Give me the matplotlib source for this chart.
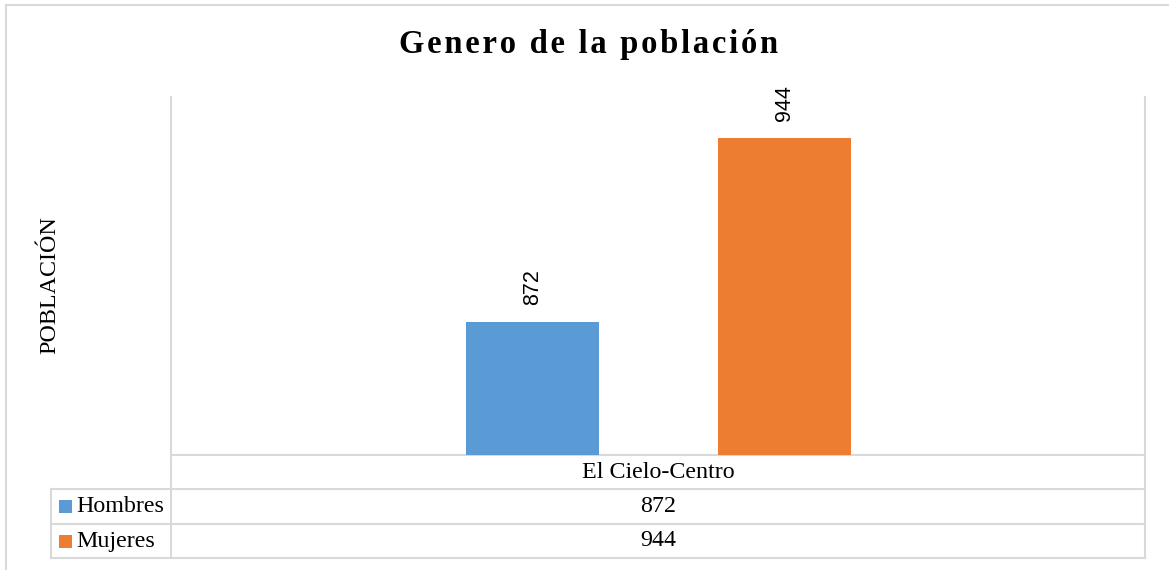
import matplotlib
matplotlib.use("Agg")
import matplotlib.pyplot as plt

title = "Genero de la población"
category = "El Cielo-Centro"
series = ["Hombres", "Mujeres"]
values = [872, 944]
colors = ["#5B9BD5", "#ED7D31"]
ylabel = "POBLACIÓN"

W, H = 1169, 570
GRID = "#D9D9D9"
SERIF = ["Liberation Serif", "DejaVu Serif"]
FS = 17.3

fig = plt.figure(figsize=(W / 100, H / 100), dpi=100)

# background layer in pixel coords: frame + data table
bg = fig.add_axes([0, 0, 1, 1], zorder=0)
bg.set_xlim(0, W)
bg.set_ylim(H, 0)
bg.axis("off")

# outer chart frame
bg.plot([6, 6], [5, H], color=GRID, lw=1.5)
bg.plot([6, W], [5, 5], color=GRID, lw=1.5)

plot_l, plot_r, plot_t, plot_b = 171, 1145, 97, 455
rows_y = [455, 489, 524, 558]
legend_l = 51

bg.plot([plot_l, plot_l], [plot_t, rows_y[-1]], color=GRID, lw=1.5)
bg.plot([plot_r, plot_r], [plot_t, rows_y[-1]], color=GRID, lw=1.5)
bg.plot([legend_l, legend_l], [rows_y[1], rows_y[-1]], color=GRID, lw=1.5)
bg.plot([plot_l, plot_r], [rows_y[0], rows_y[0]], color=GRID, lw=1.5)
for y in rows_y[1:]:
    bg.plot([legend_l, plot_r], [y, y], color=GRID, lw=1.5)

mid_x = (plot_l + plot_r) / 2
bg.text(mid_x, (rows_y[0] + rows_y[1]) / 2, category, ha="center", va="center",
        fontsize=FS, family=SERIF, color="#000000")
for i, (name, val, col) in enumerate(zip(series, values, colors)):
    yc = (rows_y[i + 1] + rows_y[i + 2]) / 2
    bg.add_patch(plt.Rectangle((59, yc - 6.5), 13, 13, color=col, lw=0))
    bg.text(76, yc, name, ha="left", va="center", fontsize=FS,
            family=SERIF, color="#000000")
    bg.text(mid_x, yc, str(val), ha="center", va="center", fontsize=FS,
            family=SERIF, color="#000000")

# title and axis label
bg.text(589, 45, "\u200a".join(title), ha="center", va="center",
        fontsize=23.5, fontweight="bold", family=SERIF)
bg.text(50, 285, ylabel, rotation=90, ha="center", va="center",
        fontsize=FS, family=SERIF)

# main plot
ax = fig.add_axes([plot_l / W, (H - plot_b) / H, (plot_r - plot_l) / W,
                   (plot_b - plot_t) / H], zorder=1)
ax.patch.set_alpha(0)
for s in ax.spines.values():
    s.set_visible(False)
ax.set_xticks([])
ax.set_yticks([])
ax.set_xlim(-0.5, 0.5)
ax.set_ylim(820, 960)

offsets = [-0.129, 0.13]
for off, val, col in zip(offsets, values, colors):
    bars = ax.bar(off, val, width=0.1366, color=col, bottom=0)
    ax.bar_label(bars, rotation=90, padding=12, fontsize=15.5,
                 family=["Liberation Sans", "DejaVu Sans"])

fig.savefig("out.png", dpi=100)
